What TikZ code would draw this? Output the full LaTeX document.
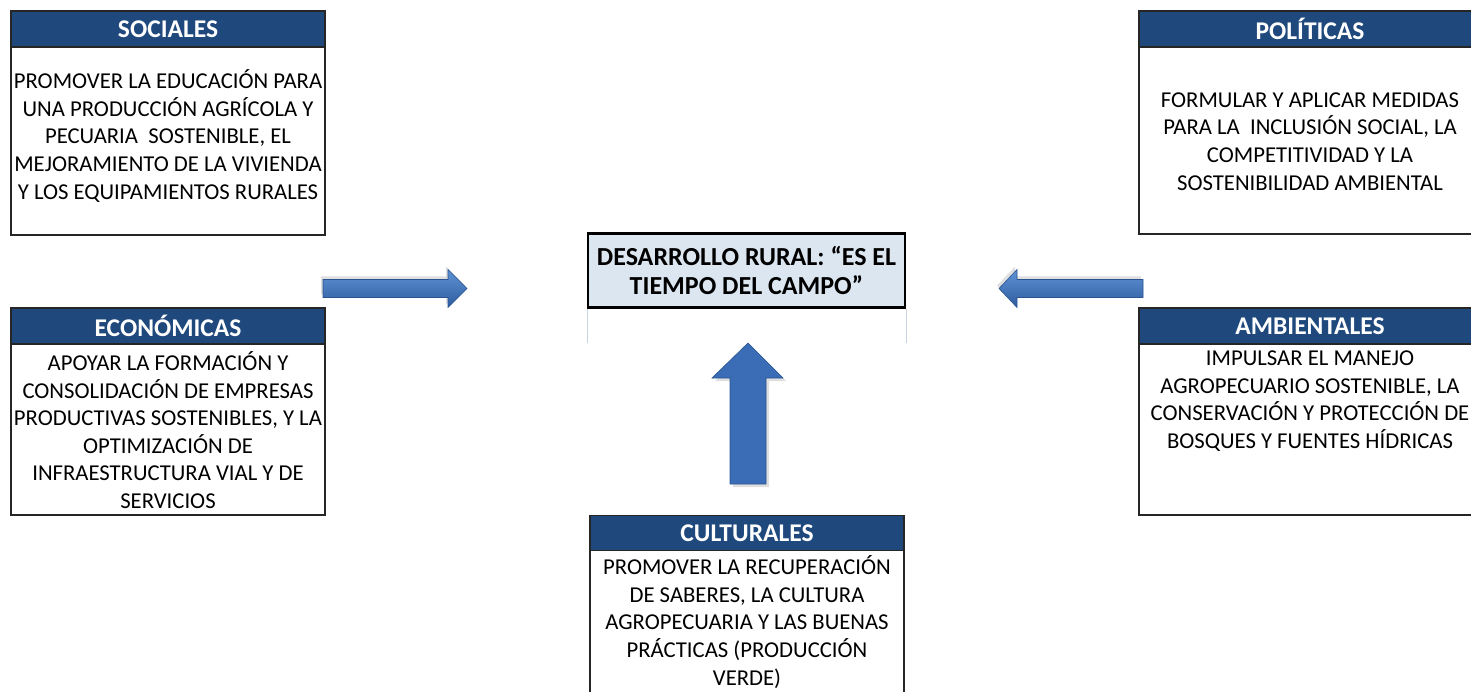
\documentclass[tikz,border=0pt]{standalone}
\usepackage{fontspec}
\setmainfont{Carlito}
\usetikzlibrary{shadows}
\definecolor{hdr}{HTML}{1F497D}
\definecolor{ctr}{HTML}{DCE6F1}
\definecolor{arrtop}{HTML}{5F93D6}
\definecolor{arrmid}{HTML}{8FBBEC}
\definecolor{arrbot}{HTML}{2E5C9E}
\definecolor{varside}{HTML}{3A6DB5}
\definecolor{varmid}{HTML}{5E95DA}
\definecolor{arredge}{HTML}{2A5491}
\definecolor{guide}{HTML}{C8D2E0}
\begin{document}
\begin{tikzpicture}[x=1pt,y=-1pt,
  box/.style={draw=black!85, line width=1.3pt, fill=white, inner sep=0pt},
  hdrbox/.style={draw=black!85, line width=1.3pt, fill=hdr, inner sep=0pt,
    text=white, font=\fontsize{25.5}{28}\selectfont\bfseries},
  bodytext/.style={align=center, inner sep=0pt,
    font=\fontsize{22.7}{27.6}\selectfont},
  ctrbox/.style={draw=black, line width=2.2pt, fill=ctr, inner sep=0pt},
  ctrtext/.style={align=center, inner sep=0pt,
    font=\fontsize{26}{29}\selectfont\bfseries},
  harrow/.style={draw=arredge, line width=0.6pt, top color=arrtop, middle color=arrmid,
    bottom color=arrbot, drop shadow={shadow xshift=-2pt, shadow yshift=3pt, opacity=0.25}},
  varrow/.style={draw=arredge, line width=0.6pt, left color=varside, middle color=varmid,
    right color=varside, drop shadow={shadow xshift=3pt, shadow yshift=-3pt, opacity=0.25}},
  guideline/.style={draw=guide, line width=0.8pt}
]
\useasboundingbox (0,0) rectangle (1471,692);

% SOCIALES
\node[box, minimum width=314pt, minimum height=224pt] (soc) at (168,123) {};
\node[hdrbox, minimum width=314pt, minimum height=36pt, anchor=north] (soch) at (soc.north) {SOCIALES};
\node[bodytext] (socb) at (168,136) {PROMOVER LA EDUCACIÓN PARA\\UNA PRODUCCIÓN AGRÍCOLA Y\\PECUARIA\ \ SOSTENIBLE, EL\\MEJORAMIENTO DE LA VIVIENDA\\Y LOS EQUIPAMIENTOS RURALES};

% ECONOMICAS
\node[box, minimum width=314pt, minimum height=207pt] (eco) at (168,411.5) {};
\node[hdrbox, minimum width=314pt, minimum height=36pt, anchor=north] (ecoh) at (eco.north) {ECONÓMICAS};
\node[bodytext] (ecob) at (168,430) {APOYAR LA FORMACIÓN Y\\CONSOLIDACIÓN DE EMPRESAS\\PRODUCTIVAS SOSTENIBLES, Y LA\\OPTIMIZACIÓN DE\\INFRAESTRUCTURA VIAL Y DE\\SERVICIOS};

% POLITICAS
\node[box, minimum width=342pt, minimum height=223pt] (pol) at (1310,122.5) {};
\node[hdrbox, minimum width=342pt, minimum height=36pt, anchor=north] (polh) at (pol.north) {POLÍTICAS};
\node[bodytext] (polb) at (1310,141.5) {FORMULAR Y APLICAR MEDIDAS\\PARA LA\ \ INCLUSIÓN SOCIAL, LA\\COMPETITIVIDAD Y LA\\SOSTENIBILIDAD AMBIENTAL};

% AMBIENTALES
\node[box, minimum width=342pt, minimum height=207pt] (amb) at (1310,411.5) {};
\node[hdrbox, minimum width=342pt, minimum height=36pt, anchor=north] (ambh) at (amb.north) {AMBIENTALES};
\node[bodytext] (ambb) at (1310,401) {IMPULSAR EL MANEJO\\AGROPECUARIO SOSTENIBLE, LA\\CONSERVACIÓN Y PROTECCIÓN DE\\BOSQUES Y FUENTES HÍDRICAS};

% CULTURALES
\node[box, minimum width=314pt, minimum height=200pt, anchor=north] (cul) at (747,515) {};
\node[hdrbox, minimum width=314pt, minimum height=35pt, anchor=north] (culh) at (cul.north) {CULTURALES};
\node[bodytext] (culb) at (747,622) {PROMOVER LA RECUPERACIÓN\\DE SABERES, LA CULTURA\\AGROPECUARIA Y LAS BUENAS\\PRÁCTICAS (PRODUCCIÓN\\VERDE)};

% CENTRAL
\node[ctrbox, minimum width=317pt, minimum height=74pt] (ctr) at (746.5,270.5) {};
\node[ctrtext] (ctrt) at (746.5,270.5) {DESARROLLO RURAL: “ES EL\\TIEMPO DEL CAMPO”};
\draw[guideline] (ctr.south west) -- ++(0,34);
\draw[guideline] (ctr.south east) -- ++(0,34);

% ARROWS
\coordinate (ra) at (323,288.5);
\coordinate (la) at (1143,288.5);
\coordinate (ua) at (748,484);
\path[harrow] (ra) ++(0,-9) -- ++(125,0) -- ++(0,-10) -- ++(19,19) -- ++(-19,19) -- ++(0,-10) -- ++(-125,0) -- cycle;
\path[harrow] (la) ++(0,-9) -- ++(-126,0) -- ++(0,-10) -- ++(-18,19) -- ++(18,19) -- ++(0,-10) -- ++(126,0) -- cycle;
\path[varrow] (ua) ++(-18,0) -- ++(0,-106) -- ++(-18,0) -- ++(36,-35) -- ++(35,35) -- ++(-17,0) -- ++(0,106) -- cycle;
\end{tikzpicture}
\end{document}
